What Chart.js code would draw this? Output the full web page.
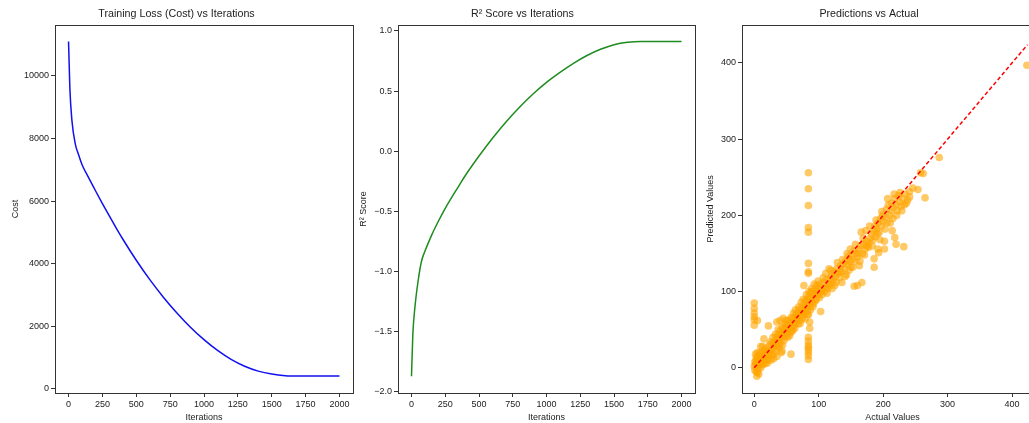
<!DOCTYPE html>
<html>
<head>
<meta charset="utf-8">
<script src="https://cdn.jsdelivr.net/npm/chart.js@4.4.1/dist/chart.umd.min.js"></script>
<style>
    html, body { margin: 0; padding: 0; background: #fff; }
    body { width: 1029px; height: 423px; overflow: hidden; position: relative; }
    canvas { position: absolute; top: 0; }
</style>
</head>
<body>
<canvas id="lossChart" width="360" height="423" style="left:0"></canvas>
<canvas id="r2Chart" width="355" height="423" style="left:350px"></canvas>
<canvas id="predChart" width="360" height="423" style="left:695px"></canvas>
<script>
// ---- data ----
const iterations = [0, 10, 25, 50, 75, 100, 150, 200, 250, 300, 350, 400, 500, 600, 700, 800, 900, 1000, 1100, 1200, 1300, 1400, 1500, 1600, 1700, 1800, 1900, 2000];
const costValues = [11100, 9580, 8570, 7820, 7470, 7160, 6730, 6320, 5920, 5530, 5150, 4785, 4105, 3485, 2925, 2420, 1965, 1565, 1220, 935, 715, 560, 465, 415, 405, 405, 405, 405];
const r2Values = [-1.87, -1.52, -1.3, -1.07, -0.91, -0.83, -0.695, -0.58, -0.475, -0.38, -0.29, -0.2, -0.04, 0.108, 0.243, 0.365, 0.475, 0.572, 0.655, 0.73, 0.795, 0.847, 0.885, 0.905, 0.912, 0.912, 0.912, 0.912];

const iterTicks = [0, 250, 500, 750, 1000, 1250, 1500, 1750, 2000];
const costTicks = [0, 2000, 4000, 6000, 8000, 10000];
const r2Ticks = [-2.0, -1.5, -1.0, -0.5, 0.0, 0.5, 1.0];
const predTicks = [0, 100, 200, 300, 400];

const actualValues = [
    0, 1, 2, 3, 4, 5, 6, 7, 8, 9, 10, 2, 3, 5, 6, 8, 10, 12, 12, 14, 15, 16, 18, 18, 20, 20, 13, 22, 24, 25,
    1, 3, 4, 6, 7, 9, 11, 13, 16, 17, 19, 21, 23, 25, 27, 29,
    0, 0, 0, 0, 0, 0, 5, 10, 15, 22, 35, 40, 45, 30, 35, 42,
    26, 27, 28, 30, 30, 32, 33, 34, 35, 36, 38, 38, 40, 40, 42, 43, 44, 45, 46, 48, 48, 50, 50, 52, 52, 54, 55, 57, 56, 58, 58,
    31, 33, 36, 37, 39, 41, 43, 44, 47, 49, 51, 53, 55, 57, 59,
    60, 60, 62, 62, 64, 65, 66, 68, 68, 70, 70, 72, 72, 74, 74, 75, 76, 77, 78, 78, 80, 80, 82, 82, 83, 84, 85, 86, 86, 88, 88, 90, 90, 92, 92, 94, 95, 96, 97, 98, 100, 100, 84, 86,
    61, 63, 64, 66, 67, 69, 71, 73, 75, 76, 79, 81, 83, 85, 87, 89, 91, 93, 95, 97, 99, 101,
    84, 84, 84, 84, 84, 84, 84, 84, 84, 84, 84, 84, 84, 84, 84, 84,
    102, 103, 104, 106, 108, 110, 112, 114, 115, 116, 118, 120, 120, 122, 124, 125, 126, 128, 130, 132, 134, 135, 136, 138, 140, 142, 143, 145, 146, 148, 150, 150, 152, 155, 155, 156, 158, 160, 160, 162, 164, 165, 166, 167, 168, 170, 172, 174, 175, 178,
    105, 107, 109, 111, 113, 117, 119, 121, 127, 129, 133, 137, 141, 144, 147, 149, 153, 157,
    180, 182, 184, 185, 186, 186, 187, 188, 190, 192, 192, 193, 194, 196, 197, 198, 200, 202, 202, 204, 205, 206, 208, 210, 212, 213, 215, 216, 218, 218, 220, 220, 222, 224, 225, 228, 230, 232, 234, 236, 241, 241, 246, 254, 258, 262, 265, 287, 423,
    161, 163, 169, 171, 173, 177, 179, 183, 189, 191, 195, 199, 203, 207, 211, 214, 217, 221, 226, 229, 233, 238
];
const predictedValues = [
    2, -3, 5, 8, -11, -6, 12, 3, 15, 6, 0, 18, 12, 20, -2, 10, 14, 8, 20, 4, 16, 10, 22, 12, 6, 18, 28, 14, 30, 20,
    8, -5, 15, 6, -8, 20, 4, 15, 24, 6, 26, 10, 22, 34, 16, 40,
    85, 78, 72, 67, 63, 56, 62, 28, 38, 55, 60, 62, 65, 12, 15, 20,
    10, 24, 33, 28, 18, 35, 22, 40, 30, 26, 44, 36, 32, 48, 40, 22, 52, 45, 36, 50, 58, 44, 54, 40, 62, 50, 58, 18, 46, 64, 54,
    30, 44, 38, 50, 28, 44, 54, 30, 40, 62, 50, 56, 42, 66, 48,
    50, 60, 66, 56, 60, 70, 64, 58, 72, 68, 76, 62, 74, 70, 80, 66, 76, 108, 72, 84, 78, 88, 74, 90, 82, 86, 94, 80, 60, 90, 98, 86, 100, 94, 84, 98, 104, 90, 108, 100, 96, 106, 70, 52,
    72, 52, 76, 70, 62, 80, 58, 86, 74, 90, 64, 96, 70, 100, 76, 104, 80, 110, 88, 96, 114, 92,
    256, 235, 213, 184, 178, 137, 126, 124, 40, 35, 30, 27, 24, 20, 16, 11,
    110, 74, 100, 104, 112, 106, 116, 104, 110, 130, 118, 112, 122, 116, 126, 108, 120, 130, 124, 118, 134, 126, 112, 136, 130, 140, 122, 136, 146, 140, 148, 132, 142, 107, 154, 140, 150, 108, 145, 156, 140, 160, 178, 112, 150, 162, 156, 166, 160, 164,
    96, 118, 100, 124, 98, 108, 128, 104, 112, 138, 126, 142, 120, 150, 128, 156, 132, 162,
    170, 176, 168, 180, 143, 132, 186, 172, 182, 156, 190, 151, 178, 196, 186, 205, 192, 156, 166, 198, 208, 190, 214, 200, 206, 216, 196, 210, 171, 222, 162, 214, 206, 226, 218, 212, 222, 159, 228, 216, 231, 224, 236, 234, 256, 255, 223, 276, 397,
    150, 134, 170, 148, 180, 158, 186, 160, 194, 176, 168, 200, 182, 222, 190, 180, 228, 200, 230, 206, 214, 220
];
const refLine = [0, 424];

// ---- shared styling ----
Chart.defaults.font.family = "'Liberation Sans', Arial, sans-serif";
Chart.defaults.color = '#222';

const frameBox = {
    id: 'frameBox',
    afterDraw(chart) {
        const { ctx, chartArea: a } = chart;
        ctx.save();
        ctx.strokeStyle = '#333';
        ctx.lineWidth = 1;
        ctx.strokeRect(Math.round(a.left) + 0.5, Math.round(a.top) + 0.5, Math.round(a.width), Math.round(a.height));
        ctx.restore();
    }
};

function axis(opts) {
    return {
        type: 'linear',
        min: opts.min,
        max: opts.max,
        border: { display: false },
        grid: { drawOnChartArea: false, drawTicks: true, tickLength: 4, color: '#333' },
        ticks: { font: { size: 9 }, padding: 2, color: '#222', maxRotation: 0, autoSkip: false, callback: opts.fmt || (v => v) },
        title: { display: true, text: opts.title, font: { size: 9 }, color: '#222', padding: opts.titlePad },
        afterBuildTicks: s => { s.ticks = opts.ticks.map(v => ({ value: v })); },
        afterFit: s => { if (opts.width) s.width = opts.width; if (opts.height) s.height = opts.height; }
    };
}

function baseOptions(title, right) {
    return {
        responsive: false,
        animation: false,
        layout: { padding: { left: 0, right: right, top: 0, bottom: 0 } },
        plugins: {
            legend: { display: false },
            tooltip: { enabled: false },
            title: { display: true, text: title, color: '#222', font: { size: 10.7, weight: 'normal' }, padding: { top: 8, bottom: 4 } }
        }
    };
}

const minus = v => v.toFixed(1).replace('-', '\u2212');

// ---- Training loss ----
new Chart(document.getElementById('lossChart'), {
    type: 'line',
    data: {
        datasets: [{
            data: iterations.map((x, i) => ({ x: x, y: costValues[i] })),
            borderColor: '#1010f0', borderWidth: 1.5, pointRadius: 0, cubicInterpolationMode: 'monotone', fill: false
        }]
    },
    options: Object.assign(baseOptions('Training Loss (Cost) vs Iterations', 7), {
        scales: {
            x: axis({ min: -100, max: 2100, ticks: iterTicks, title: 'Iterations', titlePad: { top: 0, bottom: 0 }, height: 30 }),
            y: axis({ min: -140, max: 11635, ticks: costTicks, title: 'Cost', titlePad: { top: 10.5, bottom: 0 }, width: 55 })
        }
    }),
    plugins: [frameBox]
});

// ---- R2 score ----
new Chart(document.getElementById('r2Chart'), {
    type: 'line',
    data: {
        datasets: [{
            data: iterations.map((x, i) => ({ x: x, y: r2Values[i] })),
            borderColor: '#1e8c1e', borderWidth: 1.5, pointRadius: 0, cubicInterpolationMode: 'monotone', fill: false
        }]
    },
    options: Object.assign(baseOptions('R\u00b2 Score vs Iterations', 10), {
        scales: {
            x: axis({ min: -100, max: 2100, ticks: iterTicks, title: 'Iterations', titlePad: { top: 0, bottom: 0 }, height: 30 }),
            y: axis({ min: -2.009, max: 1.05, ticks: r2Ticks, title: 'R\u00b2 Score', titlePad: { top: 8.5, bottom: 0 }, width: 48, fmt: minus })
        }
    }),
    plugins: [frameBox]
});

// ---- Predictions vs actual ----
new Chart(document.getElementById('predChart'), {
    type: 'scatter',
    data: {
        datasets: [{
            type: 'line',
            order: 0,
            data: refLine.map(v => ({ x: v, y: v })),
            borderColor: '#ff0000', borderWidth: 1.5, borderDash: [4, 2.5], pointRadius: 0, fill: false
        }, {
            order: 1,
            data: actualValues.map((x, i) => ({ x: x, y: predictedValues[i] })),
            backgroundColor: 'rgba(255,165,0,0.6)', borderWidth: 0, pointRadius: 3.8
        }]
    },
    options: Object.assign(baseOptions('Predictions vs Actual', 12), {
        scales: {
            x: axis({ min: -19, max: 448, ticks: predTicks, title: 'Actual Values', titlePad: { top: 0, bottom: 0 }, height: 30 }),
            y: axis({ min: -33, max: 450, ticks: predTicks, title: 'Predicted Values', titlePad: { top: 10.5, bottom: 0 }, width: 47 })
        }
    }),
    plugins: [frameBox]
});
</script>
</body>
</html>
